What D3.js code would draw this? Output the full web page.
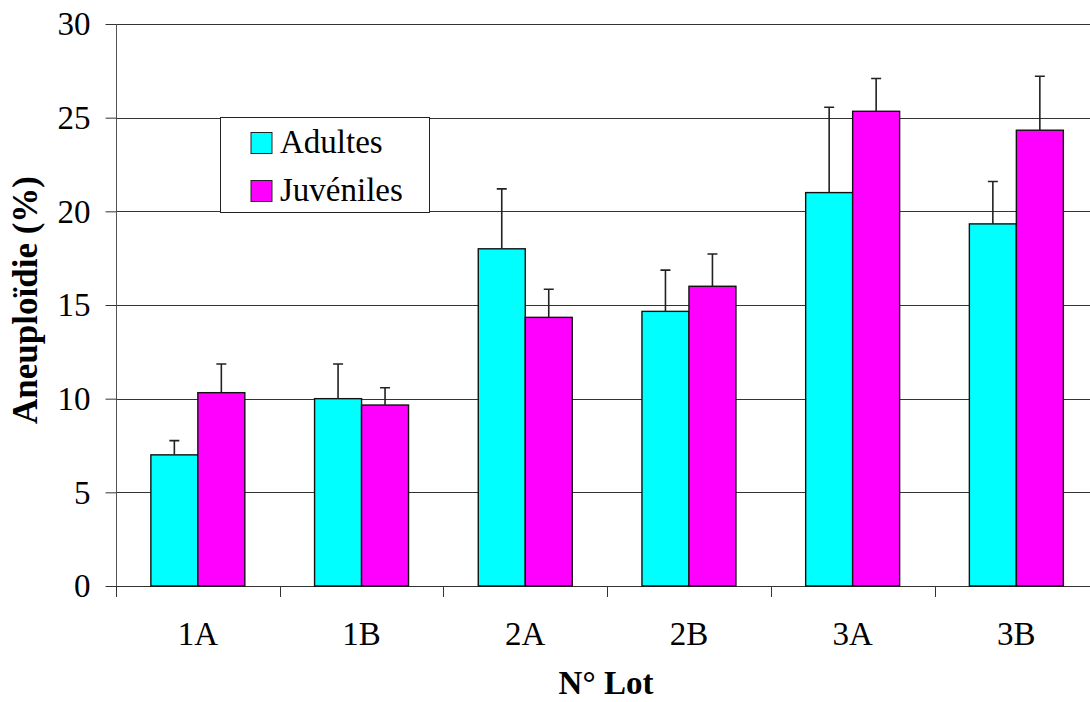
<!DOCTYPE html>
<html>
<head>
<meta charset="utf-8">
<script src="https://cdn.jsdelivr.net/npm/d3@7"></script>
<style>
  html, body { margin: 0; padding: 0; background: #fff; overflow: hidden; }
  svg { display: block; }
</style>
</head>
<body>
<svg id="chart" width="1090" height="702"></svg>
<script>
// ---- data ----
const categories = ["1A", "1B", "2A", "2B", "3A", "3B"];
const seriesNames = ["Adultes", "Juvéniles"];
const adultes = [7.0, 10.0, 18.0, 14.66, 21.0, 19.33];
const adultesErr = [0.76, 1.85, 3.2, 2.2, 4.56, 2.26];
const juveniles = [10.32, 9.66, 14.34, 16.0, 25.34, 24.33];
const juvenilesErr = [1.53, 0.92, 1.5, 1.72, 1.75, 2.88];
const yTicks = [0, 5, 10, 15, 20, 25, 30];
const colors = ["#00FFFF", "#FF00FF"];
const yTitle = "Aneuploïdie (%)";
const xTitle = "N° Lot";

const FONT = "Liberation Serif";
const svg = d3.select("#chart");

const pLeft = 116, pRight = 1098.2, pTop = 24, pBottom = 586;

const x0 = d3.scaleBand().domain(categories).range([pLeft, pRight]).paddingInner(0).paddingOuter(0);
const x1 = d3.scaleBand().domain(seriesNames).range([0, x0.bandwidth()]).paddingInner(0).paddingOuter(0.742);
const y = d3.scaleLinear().domain([0, 30]).range([pBottom, pTop]);
const color = d3.scaleOrdinal().domain(seriesNames).range(colors);

const rows = categories.map((c, i) => ({
  cat: c,
  vals: [
    { s: seriesNames[0], v: adultes[i], e: adultesErr[i] },
    { s: seriesNames[1], v: juveniles[i], e: juvenilesErr[i] }
  ]
}));

// gridlines
svg.append("g").selectAll("line").data(yTicks.filter(t => t > 0)).join("line")
  .attr("x1", pLeft).attr("x2", pRight)
  .attr("y1", d => Math.round(y(d)) + 0.5).attr("y2", d => Math.round(y(d)) + 0.5)
  .attr("stroke", "#333").attr("stroke-width", 1);

// y axis
const yAxis = d3.axisLeft(y).tickValues(yTicks).tickSize(11).tickPadding(15).tickFormat(d3.format("d"));
const gy = svg.append("g").attr("transform", `translate(${pLeft + 0.5},0)`).call(yAxis);
gy.attr("font-family", FONT).attr("font-size", 33);
gy.select(".domain").attr("stroke", "#555").attr("d", `M0,${pTop}V${pBottom + 1}`);
gy.selectAll(".tick line").attr("stroke", "#333");
gy.selectAll(".tick text").attr("font-size", 33).attr("font-family", FONT).attr("dy", "0.33em").attr("fill", "#000");

// x axis
const boundaries = categories.map(c => x0(c)).concat([pRight]);
const gx = svg.append("g");
gx.append("line").attr("x1", pLeft).attr("x2", pRight).attr("y1", pBottom + 0.5).attr("y2", pBottom + 0.5).attr("stroke", "#333");
gx.selectAll("line.tk").data(boundaries).join("line").attr("class", "tk")
  .attr("x1", d => Math.round(d) + 0.5).attr("x2", d => Math.round(d) + 0.5)
  .attr("y1", pBottom).attr("y2", pBottom + 11).attr("stroke", "#333");
gx.selectAll("text").data(categories).join("text")
  .attr("x", d => x0(d) + x0.bandwidth() / 2).attr("y", 645)
  .attr("text-anchor", "middle").attr("font-size", 33).attr("font-family", FONT).text(d => d);

// bars
const groups = svg.append("g").selectAll("g").data(rows).join("g")
  .attr("transform", d => `translate(${x0(d.cat)},0)`);
groups.selectAll("rect").data(d => d.vals).join("rect")
  .attr("x", d => x1(d.s)).attr("width", x1.bandwidth())
  .attr("y", d => y(d.v)).attr("height", d => y(0) - y(d.v))
  .attr("fill", d => color(d.s)).attr("stroke", "#111").attr("stroke-width", 1.4);

// error bars
groups.selectAll("path.err").data(d => d.vals).join("path").attr("class", "err")
  .attr("d", d => {
    const cx = x1(d.s) + x1.bandwidth() / 2;
    const y1 = y(d.v), y2 = y(d.v + d.e);
    return `M${cx},${y1}V${y2}M${cx - 5},${y2}H${cx + 5}`;
  })
  .attr("fill", "none").attr("stroke", "#222").attr("stroke-width", 1.6);

// legend
const lg = svg.append("g");
lg.append("rect").attr("x", 220.5).attr("y", 117.5).attr("width", 209).attr("height", 95)
  .attr("fill", "#fff").attr("stroke", "#222").attr("stroke-width", 1);
const items = lg.selectAll("g").data(seriesNames).join("g")
  .attr("transform", (d, i) => `translate(251,${132.5 + i * 48})`);
items.append("rect").attr("width", 21).attr("height", 21)
  .attr("fill", d => color(d)).attr("stroke", "#222").attr("stroke-width", 1);
items.append("text").attr("x", 29).attr("y", 20.5).attr("font-size", 33).attr("font-family", FONT).text(d => d);

// titles
svg.append("text").attr("x", 606).attr("y", 694).attr("text-anchor", "middle")
  .attr("font-size", 33).attr("font-weight", "bold").attr("font-family", FONT).text(xTitle);
svg.append("text").attr("transform", "translate(37,300) rotate(-90)").attr("text-anchor", "middle")
  .attr("font-size", 35).attr("font-weight", "bold").attr("font-family", FONT).text(yTitle);
</script>
</body>
</html>
